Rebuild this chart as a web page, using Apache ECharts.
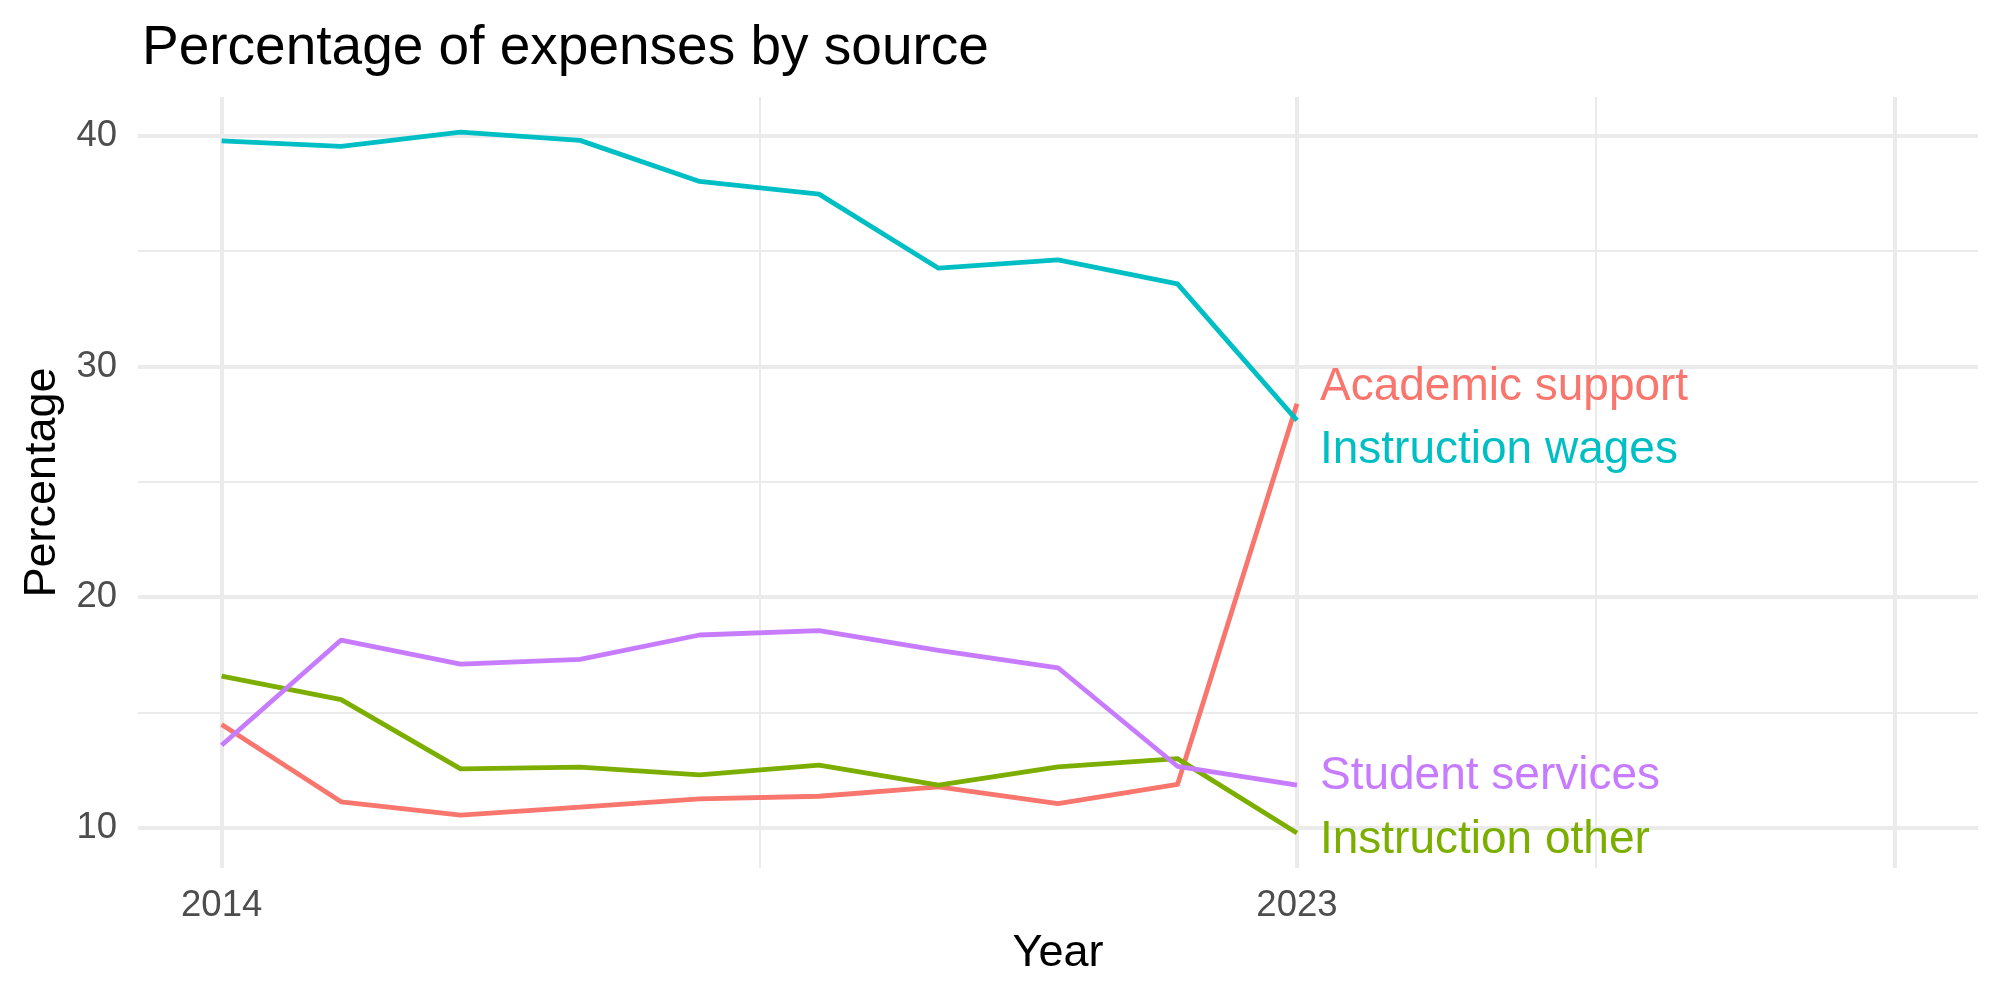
<!DOCTYPE html>
<html>
<head>
<meta charset="utf-8">
<script src="https://cdn.jsdelivr.net/npm/echarts@6/dist/echarts.min.js"></script>
<style>
  html, body { margin: 0; padding: 0; background: #fff; }
  #chart { width: 2000px; height: 1000px; }
</style>
</head>
<body>
<div id="chart"></div>
<script>
const years = [2014, 2015, 2016, 2017, 2018, 2019, 2020, 2021, 2022, 2023];
const academicSupport = [14.48, 11.13, 10.55, 10.9, 11.26, 11.37, 11.78, 11.05, 11.88, 28.38];
const instructionOther = [16.58, 15.56, 12.56, 12.63, 12.3, 12.72, 11.85, 12.64, 13.0, 9.78];
const instructionWages = [39.78, 39.54, 40.16, 39.8, 38.02, 37.47, 34.26, 34.62, 33.58, 27.66];
const studentServices = [13.58, 18.14, 17.1, 17.3, 18.36, 18.55, 17.69, 16.94, 12.67, 11.85];

const xTicks = [2014, 2023];
const xMajorGrid = [2014, 2023, 2028];
const xMinorGrid = [2018.5, 2025.5];
const yTicks = [10, 20, 30, 40];
const yMinorGrid = [15, 25, 35];

const FONT = "Liberation Sans, Arial, Helvetica, sans-serif";
const GRID_COLOR = "#EBEBEB";

const chart = echarts.init(document.getElementById("chart"), null, { renderer: "canvas" });

function pairs(values) {
  return years.map((y, i) => [y, values[i]]);
}

function lineSeries(name, values, color, dy) {
  return {
    name: name,
    type: "line",
    data: pairs(values),
    symbol: "none",
    z: 3,
    lineStyle: { color: color, width: 4.8, join: "round", cap: "butt" },
    itemStyle: { color: color },
    endLabel: {
      show: true,
      formatter: name,
      color: color,
      fontFamily: FONT,
      fontSize: 46,
      distance: 0,
      offset: [23, dy]
    },
    emphasis: { disabled: true }
  };
}

const gridLines = [
  ...xMajorGrid.map((v) => ({ xAxis: v, lineStyle: { width: 4 } })),
  ...xMinorGrid.map((v) => ({ xAxis: v, lineStyle: { width: 2 } })),
  ...yTicks.map((v) => ({ yAxis: v, lineStyle: { width: 4 } })),
  ...yMinorGrid.map((v) => ({ yAxis: v, lineStyle: { width: 2 } }))
];

const option = {
  backgroundColor: "#ffffff",
  animation: false,
  title: {
    text: "Percentage of expenses by source",
    left: 137,
    top: 16,
    textStyle: { color: "#000", fontFamily: FONT, fontSize: 55, fontWeight: "normal" }
  },
  grid: { left: 138, right: 22, top: 97, bottom: 132, containLabel: false },
  xAxis: {
    type: "value",
    min: 2013.3,
    max: 2028.7,
    name: "Year",
    nameLocation: "middle",
    nameGap: 63,
    nameTextStyle: { color: "#000", fontFamily: FONT, fontSize: 45 },
    axisLine: { show: false },
    axisTick: { show: false },
    splitLine: { show: false },
    axisLabel: {
      customValues: xTicks,
      formatter: (v) => String(v),
      color: "#4D4D4D",
      fontFamily: FONT,
      fontSize: 36.5,
      margin: 19
    }
  },
  yAxis: {
    type: "value",
    min: 8.26,
    max: 41.68,
    name: "Percentage",
    nameLocation: "middle",
    nameGap: 71,
    nameRotate: 90,
    nameTextStyle: { color: "#000", fontFamily: FONT, fontSize: 45 },
    axisLine: { show: false },
    axisTick: { show: false },
    splitLine: { show: false },
    axisLabel: {
      customValues: yTicks,
      formatter: (v) => String(v),
      color: "#4D4D4D",
      fontFamily: FONT,
      fontSize: 36.5,
      margin: 21
    }
  },
  series: [
    {
      name: "grid",
      type: "line",
      data: [],
      z: 1,
      silent: true,
      markLine: {
        z: 1,
        silent: true,
        symbol: ["none", "none"],
        label: { show: false },
        lineStyle: { color: GRID_COLOR, type: "solid" },
        emphasis: { disabled: true },
        animation: false,
        data: gridLines
      }
    },
    lineSeries("Academic support", academicSupport, "#F8766D", -17),
    lineSeries("Instruction other", instructionOther, "#7CAE00", 7),
    lineSeries("Instruction wages", instructionWages, "#00BFC4", 30),
    lineSeries("Student services", studentServices, "#C77CFF", -9)
  ]
};

chart.setOption(option);
</script>
</body>
</html>
